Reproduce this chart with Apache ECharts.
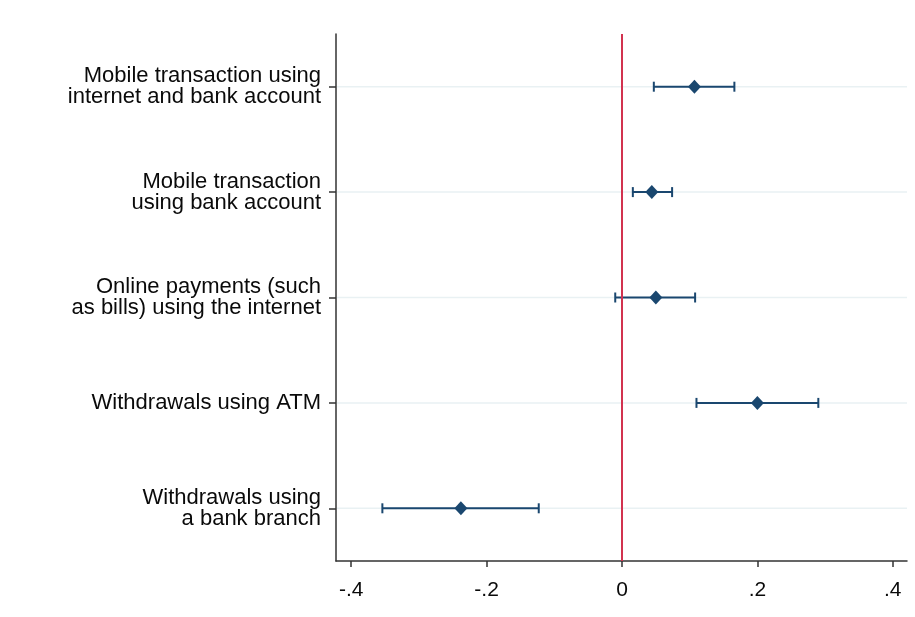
<!DOCTYPE html>
<html>
<head>
<meta charset="utf-8">
<script src="https://cdn.jsdelivr.net/npm/echarts@6/dist/echarts.min.js"></script>
<style>
    html, body {margin: 0; padding: 0; background: #fff;}
    #app {width: 915px; height: 617px;}
</style>
</head>
<body>
<div id="app"></div>
<script>
// 类别（从上到下）
let categories = [
    "Mobile transaction using\ninternet and bank account",
    "Mobile transaction\nusing bank account",
    "Online payments (such\nas bills) using the internet",
    "Withdrawals using ATM",
    "Withdrawals using\na bank branch"
];
// 点估计
let estimates = [0.107, 0.044, 0.050, 0.200, -0.238];
// 置信区间下限 / 上限
let ciLow = [0.047, 0.016, -0.010, 0.110, -0.354];
let ciHigh = [0.166, 0.074, 0.108, 0.290, -0.123];
// x轴刻度
let xTicks = [-0.4, -0.2, 0, 0.2, 0.4];

let navy = "#1a476f";

let myChart = echarts.init(document.querySelector("#app"));

let fmt = (v) => {
    if (v === 0) return "0";
    let s = String(Math.abs(+v.toFixed(2))).replace(/^0/, "");
    return (v < 0 ? "-" : "") + s;
};

myChart.setOption({
    backgroundColor: "#fff",
    animation: false,
    textStyle: {fontFamily: "Liberation Sans, Arial, sans-serif"},
    grid: {left: 336, top: 34, right: 8, bottom: 56},
    xAxis: {
        type: "value",
        min: -0.4225,
        max: 0.421,
        axisLine: {show: true, onZero: false, lineStyle: {color: "#333", width: 1.5}},
        axisTick: {show: true, customValues: xTicks, length: 6, lineStyle: {color: "#333", width: 1.5}},
        axisLabel: {customValues: xTicks, formatter: fmt, color: "#0a0a0a", fontSize: 21, margin: 19},
        splitLine: {show: false}
    },
    yAxis: {
        type: "category",
        inverse: true,
        data: categories,
        axisLine: {show: true, onZero: false, lineStyle: {color: "#333", width: 1.5}},
        axisTick: {show: true, alignWithLabel: true, length: 7, lineStyle: {color: "#333", width: 1.5}},
        axisLabel: {color: "#0a0a0a", fontSize: 22, lineHeight: 21, align: "right", margin: 15},
        splitLine: {show: false}
    },
    series: [
        {
            // 背景网格线
            type: "custom",
            z: 1,
            silent: true,
            data: categories.map((c, i) => [i]),
            encode: {y: 0},
            renderItem: (params, api) => {
                let y = api.coord([0, api.value(0)])[1];
                let cs = params.coordSys;
                return {
                    type: "line",
                    shape: {x1: cs.x + 1, y1: y, x2: cs.x + cs.width, y2: y},
                    style: {stroke: "#e9f1f3", lineWidth: 1.5}
                };
            }
        },
        {
            // 置信区间
            type: "custom",
            z: 3,
            data: categories.map((c, i) => [ciLow[i], ciHigh[i], i]),
            encode: {x: [0, 1], y: 2},
            renderItem: (params, api) => {
                let p1 = api.coord([api.value(0), api.value(2)]);
                let p2 = api.coord([api.value(1), api.value(2)]);
                let h = 5;
                let st = {stroke: navy, lineWidth: 2};
                return {
                    type: "group",
                    children: [
                        {type: "line", shape: {x1: p1[0], y1: p1[1], x2: p2[0], y2: p2[1]}, style: st},
                        {type: "line", shape: {x1: p1[0], y1: p1[1] - h, x2: p1[0], y2: p1[1] + h}, style: st},
                        {type: "line", shape: {x1: p2[0], y1: p2[1] - h, x2: p2[0], y2: p2[1] + h}, style: st}
                    ]
                };
            }
        },
        {
            // 点估计
            type: "scatter",
            z: 4,
            symbol: "diamond",
            symbolSize: [13, 14],
            itemStyle: {color: navy, opacity: 1},
            data: categories.map((c, i) => [estimates[i], i]),
            markLine: {
                silent: true,
                symbol: "none",
                label: {show: false},
                lineStyle: {color: "#d2324f", width: 2, type: "solid"},
                data: [{xAxis: 0}]
            }
        }
    ]
});
</script>
</body>
</html>
